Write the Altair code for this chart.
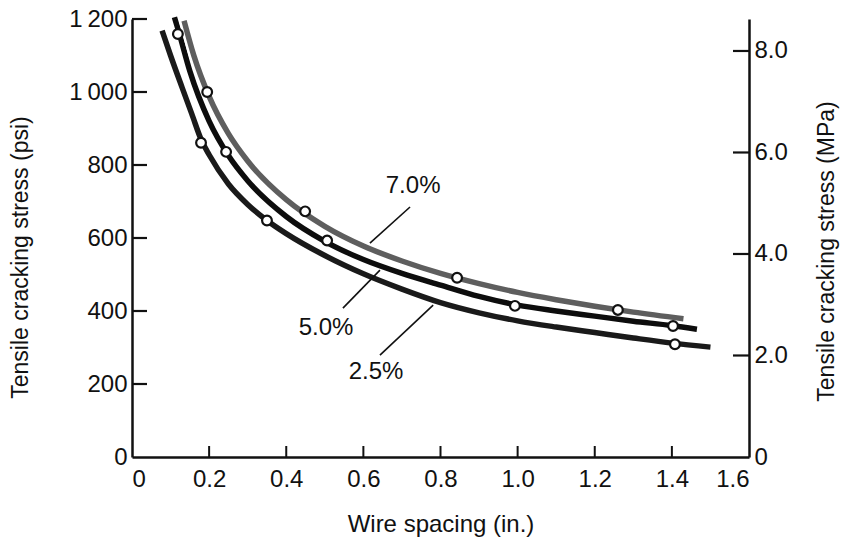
import altair as alt
import pandas as pd

# ---------------- data ----------------
x_ticks = [0, 0.2, 0.4, 0.6, 0.8, 1.0, 1.2, 1.4, 1.6]
psi_ticks = [0, 200, 400, 600, 800, 1000, 1200]
mpa_ticks = [0, 2.0, 4.0, 6.0, 8.0]

curve7_x = [0.135, 0.16, 0.20, 0.25, 0.30, 0.40, 0.50, 0.60, 0.70, 0.80, 0.90, 1.00, 1.10, 1.20, 1.30, 1.43]
curve7_y = [1195, 1101, 988, 886, 811, 705, 632, 578, 537, 503, 475, 451, 431, 413, 397, 379]

curve5_x = [0.11, 0.12, 0.15, 0.20, 0.25, 0.30, 0.40, 0.50, 0.60, 0.70, 0.80, 0.90, 1.00, 1.10, 1.20, 1.30, 1.40, 1.465]
curve5_y = [1205, 1170, 1057, 920, 826, 757, 659, 591, 541, 503, 471, 440, 416, 400, 386, 372, 360, 350]

curve25_x = [0.078, 0.10, 0.13, 0.155, 0.18, 0.20, 0.25, 0.30, 0.35, 0.40, 0.50, 0.60, 0.70, 0.80, 0.90, 1.00, 1.10, 1.20, 1.30, 1.40, 1.50]
curve25_y = [1168, 1100, 1012, 940, 868, 828, 748, 692, 648, 612, 552, 502, 460, 423, 395, 373, 356, 341, 326, 312, 301]

pts7_x = [0.195, 0.449, 0.843, 1.26]
pts7_y = [1000, 673, 491, 403]
pts5_x = [0.119, 0.244, 0.506, 0.993, 1.403]
pts5_y = [1159, 836, 593, 414, 359]
pts25_x = [0.179, 0.350, 1.408]
pts25_y = [861, 648, 309]

label_text = ["7.0%", "5.0%", "2.5%"]
label_x = [0.729, 0.503, 0.633]
label_y = [742, 353, 233]
leader_x1 = [0.721, 0.547, 0.643]
leader_y1 = [685, 408, 279]
leader_x2 = [0.617, 0.643, 0.781]
leader_y2 = [586, 512, 416]

# ---------------- chart ----------------
W, H = 617, 438
FONT = "Liberation Sans"
FS_LABEL = 24
FS_TITLE = 23

xs = alt.Scale(domain=[0, 1.6], nice=False, zero=False)
ys = alt.Scale(domain=[0, 1200], nice=False)
ms = alt.Scale(domain=[0, 8.63], nice=False)

x_axis = alt.Axis(values=x_ticks, labelExpr="datum.value == 0 ? '0' : format(datum.value, '.1f')",
                  title="Wire spacing (in.)", ticks=False, grid=False, labelPadding=10,
                  titleY=67, titleBaseline="middle", titleFontSize=24)
y_axis = alt.Axis(values=psi_ticks,
                  labelExpr="datum.value >= 1000 ? '1\u2009' + substring(toString(datum.value), 1) : datum.label",
                  title="Tensile cracking stress (psi)", ticks=False, grid=False, labelPadding=5,
                  titleAngle=270, titleX=-112, titleY=238, titleAlign="center", titleBaseline="middle")
m_axis = alt.Axis(values=mpa_ticks, orient="right",
                  labelExpr="datum.value == 0 ? '0' : format(datum.value, '.1f')",
                  title="Tensile cracking stress (MPa)", ticks=False, grid=False, labelPadding=5,
                  titleAngle=270, titleX=77, titleY=232, titleAlign="center", titleBaseline="middle")

def X(f):
    return alt.X(f, scale=xs, axis=x_axis)

def Y(f):
    return alt.Y(f, scale=ys, axis=y_axis)

def line_layers(xv, yv, color):
    df = pd.DataFrame({"x": xv, "y": yv})
    halo = alt.Chart(df).mark_line(color="white", strokeWidth=10, interpolate="monotone").encode(
        x=X("x:Q"), y=Y("y:Q"))
    ln = alt.Chart(df).mark_line(color=color, strokeWidth=5.5, interpolate="monotone").encode(
        x=X("x:Q"), y=Y("y:Q"))
    return [halo, ln]

# left inward ticks
left_ticks = alt.Chart(pd.DataFrame({"v": [t for t in psi_ticks if t > 0]})).mark_rule(
    color="#111", strokeWidth=2.2).encode(
    y=Y("v:Q"), x=alt.value(0), x2=alt.value(15))

# bottom inward ticks
bottom_ticks = alt.Chart(pd.DataFrame({"v": [t for t in x_ticks if 0 < t < 1.6]})).mark_rule(
    color="#111", strokeWidth=2).encode(
    x=X("v:Q"), y=alt.value(H), y2=alt.value(H - 11))

lines = []
lines += line_layers(curve25_x, curve25_y, "#1a1a1a")
lines += line_layers(curve5_x, curve5_y, "#0d0d0d")
lines += line_layers(curve7_x, curve7_y, "#5e5e5e")

pts_df = pd.DataFrame({"x": pts7_x + pts5_x + pts25_x, "y": pts7_y + pts5_y + pts25_y})
points = alt.Chart(pts_df).mark_point(shape="circle", filled=True, fill="white", stroke="#111",
                                      strokeWidth=2.2, size=95, opacity=1).encode(
    x=X("x:Q"), y=Y("y:Q"))

lab_df = pd.DataFrame({"t": label_text, "x": label_x, "y": label_y,
                       "x1": leader_x1, "y1": leader_y1, "x2": leader_x2, "y2": leader_y2})
leaders = alt.Chart(lab_df).mark_rule(color="#111", strokeWidth=1.6).encode(
    x=X("x1:Q"), y=Y("y1:Q"), x2="x2:Q", y2="y2:Q")
labels = alt.Chart(lab_df).mark_text(font=FONT, fontSize=24, color="#111").encode(
    x=X("x:Q"), y=Y("y:Q"), text="t:N")

left_group = alt.layer(left_ticks, bottom_ticks, *lines, leaders, points, labels)

right_ticks = alt.Chart(pd.DataFrame({"v": [t for t in mpa_ticks if t > 0]})).mark_rule(
    color="#111", strokeWidth=2.2).encode(
    y=alt.Y("v:Q", scale=ms, axis=m_axis), x=alt.value(W - 16), x2=alt.value(W))

chart = alt.layer(left_group, right_ticks).resolve_scale(y="independent").properties(
    width=W, height=H,
    autosize=alt.AutoSizeParams(type="none"),
    padding={"left": 132, "top": 19, "right": 98, "bottom": 82},
    background="white",
).configure_view(strokeWidth=0).configure_axis(
    domainColor="#111", domainWidth=2.5, labelColor="#111", titleColor="#111",
    labelFont=FONT, titleFont=FONT, labelFontSize=FS_LABEL, titleFontSize=FS_TITLE,
    titleFontWeight="normal",
)

chart.save("out.html", embed_options={"renderer": "svg", "actions": False})
